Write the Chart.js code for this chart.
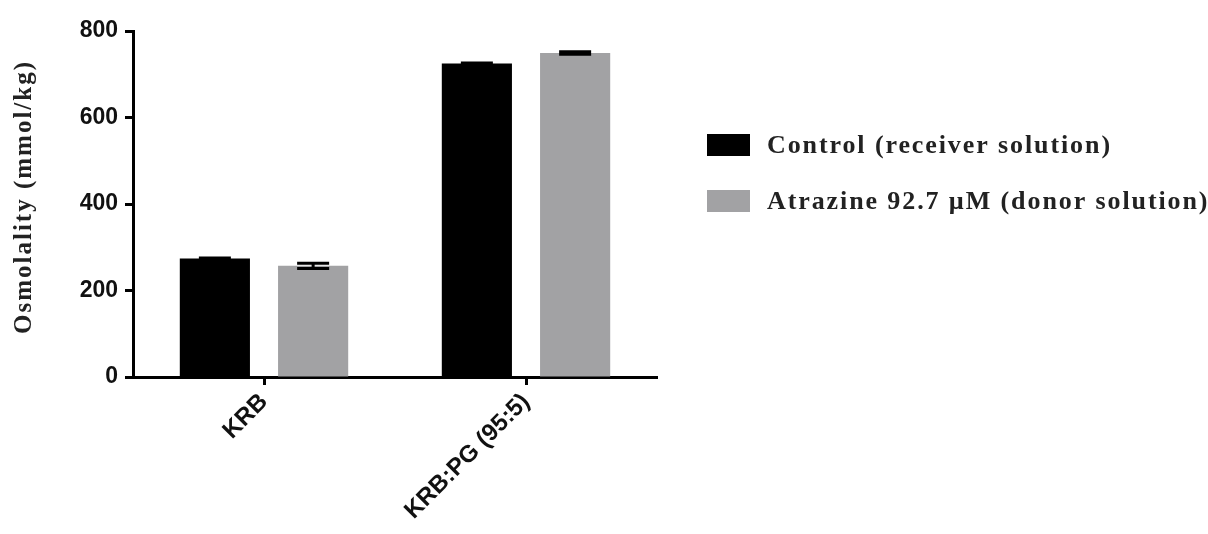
<!DOCTYPE html>
<html>
<head>
<meta charset="utf-8">
<script src="https://cdn.jsdelivr.net/npm/chart.js@4/dist/chart.umd.min.js"></script>
<style>
  html, body { margin: 0; padding: 0; background: #ffffff; }
  #wrap { width: 1208px; height: 534px; position: relative; }
</style>
</head>
<body>
<div id="wrap"><canvas id="chart" width="1208" height="534"></canvas></div>
<script>
// Osmolality of the receiver and donor solutions (mean ± SEM)
const categories = ['KRB', 'KRB:PG (95:5)'];
const seriesNames = ['Control (receiver solution)', 'Atrazine 92.7 \u00b5M (donor solution)'];
const controlMean = [274, 725];
const controlErr = [1, 1];
const atrazineMean = [257, 749];
const atrazineErr = [6, 3];
const yTicks = [0, 200, 400, 600, 800];
const yTitle = 'Osmolality (mmol/kg)';

const seriesColors = ['#000000', '#a2a2a4'];
const serifFont = "'Liberation Serif', 'Times New Roman', serif";
const sansFont = "'Liberation Sans', Arial, sans-serif";

// Symmetric error bars drawn on top of every bar
const errorBars = {
  id: 'errorBars',
  afterDatasetsDraw(chart) {
    const ctx = chart.ctx;
    const y = chart.scales.y;
    chart.data.datasets.forEach((ds, i) => {
      const meta = chart.getDatasetMeta(i);
      meta.data.forEach((bar, j) => {
        const m = ds.data[j];
        const e = ds.errors[j];
        const hi = y.getPixelForValue(m + e);
        const lo = y.getPixelForValue(m - e);
        const half = 16;
        ctx.save();
        ctx.strokeStyle = '#000000';
        ctx.lineWidth = 3;
        ctx.beginPath();
        ctx.moveTo(bar.x, hi); ctx.lineTo(bar.x, lo);
        ctx.moveTo(bar.x - half, hi); ctx.lineTo(bar.x + half, hi);
        ctx.moveTo(bar.x - half, lo); ctx.lineTo(bar.x + half, lo);
        ctx.stroke();
        ctx.restore();
      });
    });
  }
};

// Vertical axis title with wide letter spacing
const axisTitle = {
  id: 'axisTitle',
  afterDraw(chart) {
    const ctx = chart.ctx;
    const a = chart.chartArea;
    ctx.save();
    ctx.translate(25, (a.top + a.bottom) / 2 - 7);
    ctx.rotate(-Math.PI / 2);
    ctx.font = 'bold 25px ' + serifFont;
    if ('letterSpacing' in ctx) ctx.letterSpacing = '2px';
    ctx.fillStyle = '#222222';
    ctx.textAlign = 'center';
    ctx.textBaseline = 'middle';
    ctx.fillText(yTitle, 0, 0);
    ctx.restore();
  }
};

// Legend to the right of the plot
const sideLegend = {
  id: 'sideLegend',
  afterDraw(chart) {
    const ctx = chart.ctx;
    const x0 = chart.chartArea.right + 50;
    const rows = [145, 201];
    ctx.save();
    chart.data.datasets.forEach((ds, i) => {
      const cy = rows[i];
      ctx.fillStyle = ds.backgroundColor;
      ctx.fillRect(x0, cy - 11, 43, 22);
      ctx.font = 'bold 26px ' + serifFont;
      if ('letterSpacing' in ctx) ctx.letterSpacing = '1.9px';
      ctx.fillStyle = '#222222';
      ctx.textAlign = 'left';
      ctx.textBaseline = 'middle';
      ctx.fillText(ds.label, x0 + 60, cy + 1);
    });
    ctx.restore();
  }
};

new Chart(document.getElementById('chart'), {
  type: 'bar',
  data: {
    labels: categories,
    datasets: [
      { label: seriesNames[0], data: controlMean, errors: controlErr, backgroundColor: seriesColors[0] },
      { label: seriesNames[1], data: atrazineMean, errors: atrazineErr, backgroundColor: seriesColors[1] }
    ]
  },
  options: {
    responsive: false,
    animation: false,
    devicePixelRatio: 1,
    categoryPercentage: 0.75,
    barPercentage: 0.714,
    layout: { padding: { top: 31, right: 551, bottom: 0, left: 0 } },
    plugins: { legend: { display: false }, tooltip: { enabled: false } },
    scales: {
      x: {
        offset: true,
        afterFit: s => { s.height = 157; },
        grid: { offset: false, drawOnChartArea: false, drawTicks: true, tickLength: 8, tickWidth: 3, tickColor: '#000000' },
        border: { display: true, color: '#000000', width: 3 },
        ticks: {
          autoSkip: false,
          minRotation: 45,
          maxRotation: 45,
          padding: 3,
          color: '#111111',
          font: { family: sansFont, size: 24, weight: 'bold' }
        }
      },
      y: {
        min: 0,
        max: 800,
        afterFit: s => { s.width = 133; },
        afterBuildTicks: s => { s.ticks = yTicks.map(v => ({ value: v })); },
        grid: { drawOnChartArea: false, drawTicks: true, tickLength: 8, tickWidth: 3, tickColor: '#000000' },
        border: { display: true, color: '#000000', width: 3 },
        ticks: {
          padding: 7,
          color: '#111111',
          font: { family: sansFont, size: 23, weight: 'bold' }
        }
      }
    }
  },
  plugins: [errorBars, axisTitle, sideLegend]
});
</script>
</body>
</html>
